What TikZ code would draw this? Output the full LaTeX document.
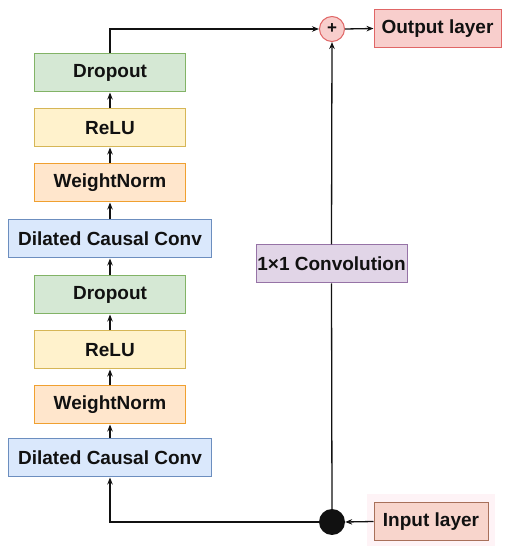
\documentclass[tikz,border=0pt]{standalone}
\usepackage{fontspec}
\setmainfont{Liberation Sans}
\usetikzlibrary{arrows.meta}
\definecolor{tcnink}{HTML}{111111}
\definecolor{dropfill}{HTML}{D5E8D4}
\definecolor{dropline}{HTML}{82B366}
\definecolor{relufill}{HTML}{FFF2CC}
\definecolor{reluline}{HTML}{D6B656}
\definecolor{normfill}{HTML}{FFE6CC}
\definecolor{normline}{HTML}{F0A030}
\definecolor{convfill}{HTML}{DAE8FC}
\definecolor{convline}{HTML}{6C8EBF}
\definecolor{onefill}{HTML}{E1D5E7}
\definecolor{oneline}{HTML}{9673A6}
\definecolor{outfill}{HTML}{F8CECC}
\definecolor{outline}{HTML}{E06666}
\definecolor{infill}{HTML}{F8D5CC}
\definecolor{inline}{HTML}{A8705A}
\definecolor{inhalo}{HTML}{FEF3F6}

\begin{document}
\begin{tikzpicture}[
  x=1pt,
  y=1pt,
  every node/.style={font=\fontsize{19}{22}\selectfont\bfseries, text=tcnink},
  block/.style={draw, line width=1pt, minimum width=151pt, minimum height=38pt,
                inner sep=0pt},
  wideblock/.style={block, minimum width=203pt},
  conn/.style={tcnink, line width=1.3pt, -{Stealth[length=7pt, width=5.5pt]}},
  wire/.style={tcnink, line width=1.3pt},
  sumpt/.style={circle, draw=outline, fill=outfill, line width=1pt,
                minimum size=25pt, inner sep=0pt,
                font=\fontsize{17}{17}\selectfont\bfseries},
  splitpt/.style={circle, fill=tcnink, minimum size=26pt, inner sep=0pt}
]
  \useasboundingbox (0,0) rectangle (509,550);

  % ---- left stack (bottom to top) ----
  \node[wideblock, fill=convfill, draw=convline] (dcc2)  at (110,92)  {Dilated Causal Conv};
  \node[block, fill=normfill, draw=normline]     (wn2)   at (110,145) {WeightNorm};
  \node[block, fill=relufill, draw=reluline]     (relu2) at (110,200) {ReLU};
  \node[block, fill=dropfill, draw=dropline]     (drop2) at (110,255) {Dropout};
  \node[wideblock, fill=convfill, draw=convline] (dcc1)  at (110,311) {Dilated Causal Conv};
  \node[block, fill=normfill, draw=normline]     (wn1)   at (110,367) {WeightNorm};
  \node[block, fill=relufill, draw=reluline]     (relu1) at (110,422) {ReLU};
  \node[block, fill=dropfill, draw=dropline]     (drop1) at (110,477) {Dropout};

  % ---- residual branch ----
  \node[block, fill=onefill, draw=oneline] (conv) at (331.5,286) {1×1 Convolution};
  \node[sumpt]   (sum)   at (332,521) {+};
  \node[splitpt] (split) at (332,28)  {};

  % ---- in / out ----
  \fill[inhalo] (367,4) rectangle (495,56);
  \node[block, minimum width=114pt, fill=infill, draw=inline]   (inp) at (431,28.5)   {Input layer};
  \node[block, minimum width=127pt, fill=outfill, draw=outline] (out) at (437.5,521.5) {Output layer};

  % ---- arrows inside the stack ----
  \foreach \from/\to in {dcc2/wn2, wn2/relu2, relu2/drop2, drop2/dcc1,
                         dcc1/wn1, wn1/relu1, relu1/drop1}
    \draw[conn] (\from.north) -- (\to.south);

  % ---- outer wiring ----
  \draw[conn] (inp.west) -- (split.east);
  \draw[conn] (split.west) -| (dcc2.south);
  \draw[wire] (split.north) -- (conv.south);
  \draw[conn] (conv.north) -- (sum.south);
  \draw[conn] (drop1.north) |- (sum.west);
  \draw[conn] (sum.east) -- (out.west);
\end{tikzpicture}
\end{document}
